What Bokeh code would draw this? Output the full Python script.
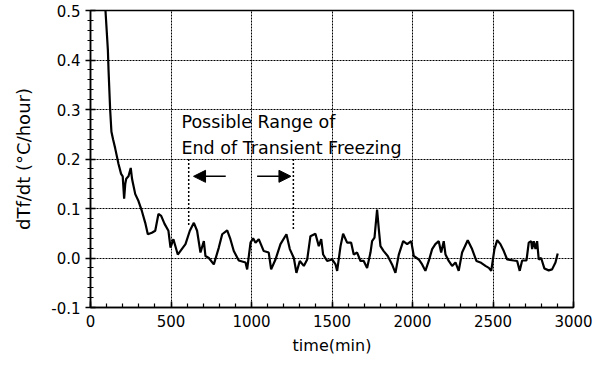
from bokeh.plotting import figure
from bokeh.models import (Range1d, SingleIntervalTicker, PrintfTickFormatter,
                          Arrow, NormalHead, ColumnDataSource)
from bokeh.core.properties import value
from bokeh.embed import file_html
from bokeh.resources import INLINE

# ---- data ----
time_min = [85, 93, 108, 112, 122, 130, 140, 153, 174, 190, 200, 209, 216, 222, 236, 250, 258,
            263, 278, 298, 319, 340, 356, 381, 402, 422, 439, 460, 484, 497, 515, 542,
            567, 590, 617, 642, 662, 683, 704, 714, 735, 766, 797, 818, 849, 869, 890,
            921, 963, 973, 994, 1010, 1025, 1045, 1076, 1107, 1122, 1149, 1180, 1217,
            1238, 1263, 1279, 1300, 1325, 1346, 1366, 1397, 1418, 1433, 1445, 1470,
            1501, 1522, 1532, 1553, 1569, 1594, 1619, 1635, 1656, 1677, 1697, 1718,
            1739, 1749, 1764, 1780, 1790, 1801, 1821, 1846, 1873, 1894, 1915, 1942,
            1967, 1992, 2008, 2039, 2060, 2080, 2101, 2122, 2142, 2163, 2178, 2194,
            2205, 2225, 2246, 2267, 2287, 2308, 2343, 2370, 2397, 2422, 2453, 2474,
            2489, 2509, 2526, 2546, 2567, 2588, 2629, 2650, 2666, 2681, 2708, 2722,
            2737, 2743, 2753, 2764, 2774, 2784, 2799, 2819, 2846, 2867, 2888, 2902]
dtf_dt = [0.60, 0.50, 0.42, 0.38, 0.30, 0.255, 0.24, 0.222, 0.19, 0.17, 0.165, 0.12, 0.15,
          0.16, 0.165, 0.182, 0.16, 0.152, 0.129, 0.115, 0.095, 0.071, 0.048, 0.051,
          0.055, 0.089, 0.085, 0.069, 0.055, 0.021, 0.038, 0.007, 0.018, 0.028, 0.055,
          0.071, 0.055, 0.011, 0.034, 0.004, 0.0, -0.013, 0.021, 0.048, 0.056, 0.038,
          0.014, -0.005, -0.009, -0.023, 0.031, 0.040, 0.031, 0.038, 0.014, 0.011,
          -0.023, -0.003, 0.028, 0.048, 0.018, 0.0, -0.030, -0.006, -0.016, -0.003,
          0.044, 0.049, 0.024, 0.038, 0.007, -0.006, -0.003, -0.013, -0.026, 0.024,
          0.049, 0.031, 0.031, 0.007, 0.011, -0.006, -0.006, -0.020, 0.011, 0.034,
          0.041, 0.098, 0.061, 0.024, 0.014, 0.004, -0.013, -0.030, 0.007, 0.034,
          0.028, 0.034, 0.004, -0.003, -0.013, -0.026, -0.006, 0.018, 0.028, 0.034,
          0.011, 0.034, 0.007, -0.006, -0.016, -0.009, -0.026, 0.011, 0.036, 0.018,
          -0.006, -0.009, -0.016, -0.020, -0.026, 0.018, 0.036, 0.028, 0.014, -0.003,
          -0.005, -0.006, -0.026, -0.005, -0.005, 0.031, 0.034, 0.018, 0.034, 0.018,
          0.034, -0.003, 0.0, -0.021, -0.025, -0.023, -0.009, 0.009]

range_marks_t = [610, 1260]          # dotted lines: possible range of end
range_marks_top = [0.20, 0.20]
range_marks_bottom = [0.065, 0.055]
arrow_left = (840, 640, 0.165)        # x_start, x_end, y
arrow_right = (1035, 1245, 0.165)
note_lines = ["Possible Range of", "End of Transient Freezing"]
note_x = 565
note_y = [0.275, 0.222]

FONT = "DejaVu Sans"

p = figure(width=598, height=365, output_backend="svg", toolbar_location=None,
           x_range=Range1d(0, 3000), y_range=Range1d(-0.1, 0.5),
           min_border_left=90, min_border_right=25, min_border_top=10,
           min_border_bottom=58)
p.background_fill_color = "white"
p.border_fill_color = "white"
p.outline_line_color = "black"
p.outline_line_width = 1.5

p.xaxis.ticker = SingleIntervalTicker(interval=500, num_minor_ticks=5)
p.yaxis.ticker = SingleIntervalTicker(interval=0.1, num_minor_ticks=5)
p.yaxis.formatter = PrintfTickFormatter(format="%.1f")

for ax in (p.xaxis[0], p.yaxis[0]):
    ax.axis_line_color = "black"
    ax.axis_line_width = 1.5
    ax.major_tick_line_color = "black"
    ax.minor_tick_line_color = "black"
    ax.major_tick_line_width = 1.5
    ax.minor_tick_line_width = 1.2
    ax.major_label_text_font = FONT
    ax.major_label_text_font_size = "15px"
    ax.major_label_text_color = "black"
    ax.axis_label_text_font = FONT
    ax.axis_label_text_font_style = "normal"
    ax.axis_label_text_color = "black"

p.xaxis.major_tick_in = 6
p.xaxis.major_tick_out = 0
p.xaxis.minor_tick_in = 4
p.xaxis.minor_tick_out = 0
p.xaxis.major_label_standoff = 7
p.xaxis.axis_label = "time(min)"
p.xaxis.axis_label_text_font_size = "16px"
p.xaxis.axis_label_standoff = 6

p.yaxis.major_tick_in = 5
p.yaxis.major_tick_out = 5
p.yaxis.minor_tick_in = 3
p.yaxis.minor_tick_out = 3
p.yaxis.major_label_standoff = 5
p.yaxis.axis_label = "dTf/dt (°C/hour)"
p.yaxis.axis_label_text_font_size = "18px"
p.yaxis.axis_label_standoff = 14

p.grid.grid_line_color = "black"
p.grid.grid_line_dash = "2 1"
p.grid.grid_line_width = 1
p.grid.grid_line_alpha = 1.0
p.xgrid.ticker = SingleIntervalTicker(interval=500)
p.ygrid.ticker = SingleIntervalTicker(interval=0.1)

src = ColumnDataSource(dict(t=time_min, v=dtf_dt))
p.line("t", "v", source=src, line_color="black", line_width=2.2)

p.segment(x0=range_marks_t, y0=range_marks_top, x1=range_marks_t,
          y1=range_marks_bottom, line_color="black", line_width=1.5,
          line_dash="2 2")

for (xs, xe, yy) in (arrow_left, arrow_right):
    p.add_layout(Arrow(x_start=xs, y_start=yy, x_end=xe, y_end=yy,
                       line_color="black", line_width=1.5,
                       end=NormalHead(size=12, fill_color="black",
                                      line_color="black", line_width=1)))

p.text(x=[note_x, note_x], y=note_y, text=note_lines, text_font=value(FONT),
       text_font_size="17.5px", text_color="black", text_baseline="alphabetic",
       text_align="left")

open("out.html", "w").write(file_html(p, INLINE))
